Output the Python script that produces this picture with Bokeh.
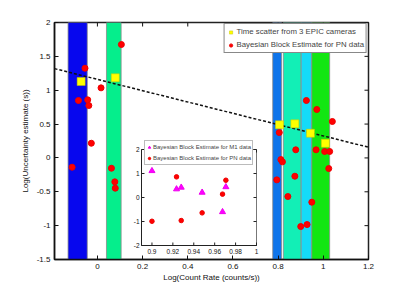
from bokeh.plotting import figure
from bokeh.models import Range1d, FixedTicker, Legend, LegendItem
from bokeh.core.properties import value
from bokeh.embed import file_html
from bokeh.resources import INLINE

# ---------------- data ----------------
band_left = [-0.13, 0.04, 0.776, 0.823, 0.902, 0.949]
band_right = [-0.045, 0.105, 0.815, 0.902, 0.949, 1.028]
band_colors = ["#0707ee", "#05ee8c", "#0e74ea", "#12efb6", "#14dbf8", "#12e612"]

epic_x = [-0.072, 0.079, 0.806, 0.874, 0.943, 1.009]
epic_y = [1.128, 1.183, 0.489, 0.503, 0.365, 0.217]

pn_x = [0.106, -0.055, 0.016, -0.084, -0.043, -0.038, -0.027, -0.112, 0.062, 0.077, 0.079,
        0.925, 0.971, 1.040, 0.805, 0.878, 0.968, 1.006, 1.028, 0.812, 0.819, 1.024,
        0.794, 0.874, 0.843, 0.949, 0.900, 0.928]
pn_y = [1.675, 1.325, 1.035, 0.848, 0.858, 0.774, 0.217, -0.137, -0.152, -0.353, -0.447,
        0.848, 0.715, 0.538, 0.375, 0.120, 0.120, 0.095, 0.095, -0.024, -0.058, -0.157,
        -0.324, -0.270, -0.570, -0.654, -1.013, -0.984]

fit_slope = -0.835
fit_intercept = 1.16

inset_m1_x = [0.900, 0.9235, 0.928, 0.948, 0.9675, 0.9707]
inset_m1_y = [1.11, 0.35, 0.42, 0.21, -0.60, 0.44]
inset_pn_x = [0.900, 0.9235, 0.928, 0.948, 0.9675, 0.9707]
inset_pn_y = [-0.99, 0.86, -0.96, -0.64, 0.14, 0.72]

x_ticks = [0, 0.2, 0.4, 0.6, 0.8, 1, 1.2]
x_tick_labels = ["0", "0.2", "0.4", "0.6", "0.8", "1", "1.2"]
y_ticks = [-1.5, -1, -0.5, 0, 0.5, 1, 1.5, 2]
y_tick_labels = ["-1.5", "-1", "-0.5", "0", "0.5", "1", "1.5", "2"]

inset_x_ticks = [0.9, 0.92, 0.94, 0.96, 0.98, 1.0]
inset_x_labels = ["0.9", "0.92", "0.94", "0.96", "0.98", "1"]
inset_y_ticks = [-2, -1, 0, 1, 2]
inset_y_labels = ["-2", "-1", "0", "1", "2"]

legend_labels = ["Time scatter from 3 EPIC cameras", "Bayesian Block Estimate for PN data"]
inset_legend_labels = ["Bayesian Block Estimate for M1 data", "Bayesian Block Estimate for PN data"]

x_label = "Log(Count Rate (counts/s))"
y_label = "Log(Uncertainty estimate (s))"

# ---------------- layout constants ----------------
FONT = "Liberation Sans"
BL, BT = 54, 22
FW, FH = 314, 237
W, H = 400, 288
X0, X1 = -0.19, 1.2
Y0, Y1 = -1.5, 2.0
# inset frame in pixels, relative to main frame (left/top)
IL, IR, IT, IB = 87, 202, 127, 223
IX0, IX1 = 0.89, 1.0
IY0, IY1 = -2.0, 2.0

p = figure(width=W, height=H, x_range=Range1d(X0, X1), y_range=Range1d(Y0, Y1),
           output_backend="svg", toolbar_location=None,
           min_border_left=BL, min_border_top=BT, min_border_right=W - BL - FW,
           min_border_bottom=H - BT - FH)
p.background_fill_color = "white"
p.grid.visible = False
p.outline_line_color = "#222222"
p.outline_line_width = 1.5

def style_axis(ax, ticks, labels):
    ax.ticker = FixedTicker(ticks=ticks)
    ax.major_label_overrides = {t: l for t, l in zip(ticks, labels)}
    ax.major_tick_in = 4
    ax.major_tick_out = 0
    ax.minor_tick_line_color = None
    ax.axis_line_color = "#111111"
    ax.axis_line_width = 1.5
    ax.major_tick_line_color = "#111111"
    ax.major_label_text_font = FONT
    ax.major_label_text_font_size = "8px"
    ax.major_label_text_color = "#111111"
    ax.major_label_standoff = 4
    ax.axis_label_text_font = FONT
    ax.axis_label_text_font_size = "8px"
    ax.axis_label_text_font_style = "normal"
    ax.axis_label_text_color = "#111111"

style_axis(p.xaxis[0], x_ticks, x_tick_labels)
style_axis(p.yaxis[0], y_ticks, y_tick_labels)
p.xaxis.axis_label = x_label
p.yaxis.axis_label = y_label
p.xaxis.axis_label_standoff = 1
p.yaxis.axis_label_standoff = 4

# bands
p.quad(left=band_left, right=band_right, bottom=Y0, top=Y1, fill_color=band_colors,
       line_color="#8a8a8a", line_width=0.8)

# top / right inward ticks (mirror of bottom / left axes)
tx = 4 * (X1 - X0) / FW
ty = 4 * (Y1 - Y0) / FH
p.segment(x0=x_ticks, y0=[Y1] * len(x_ticks), x1=x_ticks, y1=[Y1 - ty] * len(x_ticks),
          line_color="#111111", line_width=1)
p.segment(x0=[X1] * len(y_ticks), y0=y_ticks, x1=[X1 - tx] * len(y_ticks), y1=y_ticks,
          line_color="#111111", line_width=1)

# fit line
fx = [X0, X1]
fy = [fit_intercept + fit_slope * v for v in fx]
p.line(fx, fy, line_color="#111111", line_width=1.5, line_dash="3 2")

r_pn = p.scatter(pn_x, pn_y, marker="circle", size=6, fill_color="#ff0000", line_color="#ee0000")
r_epic = p.scatter(epic_x, epic_y, marker="square", size=8, fill_color="#ffff00",
                   line_color="#c8c800", line_width=0.5)

leg = Legend(items=[LegendItem(label=legend_labels[0], renderers=[r_epic]),
                    LegendItem(label=legend_labels[1], renderers=[r_pn])],
             location="top_right", margin=1, padding=2, spacing=2,
             label_text_font=FONT, label_text_font_size="7.8px", label_height=11,
             glyph_width=8, glyph_height=8, label_standoff=2,
             border_line_color="#111111", border_line_width=1,
             background_fill_color="white", background_fill_alpha=1)
p.add_layout(leg)

# ---------------- inset (drawn via extra ranges) ----------------
sx = (IX1 - IX0) / (IR - IL)
sy = (IY1 - IY0) / (IB - IT)
ix_start = IX0 - IL * sx
iy_start = IY0 - (FH - IB) * sy
p.extra_x_ranges = {"ix": Range1d(ix_start, ix_start + FW * sx)}
p.extra_y_ranges = {"iy": Range1d(iy_start, iy_start + FH * sy)}
kw = dict(x_range_name="ix", y_range_name="iy")

p.quad(left=[IX0], right=[IX1], bottom=[IY0], top=[IY1], fill_color="white",
       line_color="#777777", line_width=1, **kw)
p.segment(x0=[IX0, IX0], y0=[IY0, IY0], x1=[IX0, IX1], y1=[IY1, IY0],
          line_color="#222222", line_width=1, **kw)
tick_len_x = 3 * sx
tick_len_y = 3 * sy
nx, ny = len(inset_x_ticks), len(inset_y_ticks)
p.segment(x0=inset_x_ticks, y0=[IY0] * nx, x1=inset_x_ticks, y1=[IY0 + tick_len_y] * nx,
          line_color="#222222", line_width=1, **kw)
p.segment(x0=inset_x_ticks, y0=[IY1] * nx, x1=inset_x_ticks, y1=[IY1 - tick_len_y] * nx,
          line_color="#222222", line_width=1, **kw)
p.segment(x0=[IX0] * ny, y0=inset_y_ticks, x1=[IX0 + tick_len_x] * ny, y1=inset_y_ticks,
          line_color="#222222", line_width=1, **kw)
p.segment(x0=[IX1] * ny, y0=inset_y_ticks, x1=[IX1 - tick_len_x] * ny, y1=inset_y_ticks,
          line_color="#222222", line_width=1, **kw)
p.text(x=inset_x_ticks, y=[IY0] * nx, text=inset_x_labels,
       text_font=value(FONT), text_font_size="6.5px", text_align="center", text_baseline="top",
       y_offset=3, text_color="#111111", **kw)
p.text(x=[IX0] * ny, y=inset_y_ticks, text=inset_y_labels,
       text_font=value(FONT), text_font_size="6.5px", text_align="right", text_baseline="middle",
       x_offset=-2, text_color="#111111", **kw)

r_m1 = p.scatter(inset_m1_x, inset_m1_y, marker="triangle", size=6, fill_color="#ff00ff",
                 line_color="#ee00ee", **kw)
r_ipn = p.scatter(inset_pn_x, inset_pn_y, marker="circle", size=4.5, fill_color="#ff0000",
                  line_color="#ee0000", **kw)

ileg = Legend(items=[LegendItem(label=inset_legend_labels[0], renderers=[r_m1]),
                     LegendItem(label=inset_legend_labels[1], renderers=[r_ipn])],
              location=(90, 94), margin=0, padding=1, spacing=1,
              label_text_font=FONT, label_text_font_size="6px", label_height=10,
              glyph_width=6, glyph_height=6, label_standoff=1,
              border_line_color="#777777", border_line_width=1,
              background_fill_color="white", background_fill_alpha=1)
p.add_layout(ileg)

open("out.html", "w").write(file_html(p, INLINE))
